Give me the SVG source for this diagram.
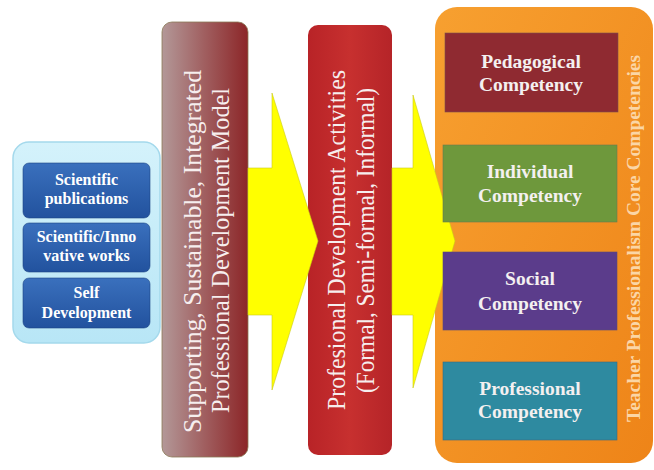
<svg xmlns="http://www.w3.org/2000/svg" width="654" height="470" viewBox="0 0 654 470" font-family="'Liberation Serif', 'DejaVu Serif', serif">
  <defs>
    <linearGradient id="gPanel" x1="0" y1="0" x2="0" y2="1">
      <stop offset="0" stop-color="#d4f2fb"/>
      <stop offset="1" stop-color="#b8e6f6"/>
    </linearGradient>
    <linearGradient id="gBlue" x1="0" y1="0" x2="0" y2="1">
      <stop offset="0" stop-color="#3a70bd"/>
      <stop offset="1" stop-color="#22529e"/>
    </linearGradient>
    <linearGradient id="gMaroon" x1="0" y1="0" x2="1" y2="0">
      <stop offset="0" stop-color="#b39898"/>
      <stop offset="0.5" stop-color="#a05e5f"/>
      <stop offset="1" stop-color="#8c2628"/>
    </linearGradient>
    <linearGradient id="gRed" x1="0" y1="0" x2="1" y2="0">
      <stop offset="0" stop-color="#b82327"/>
      <stop offset="0.5" stop-color="#c7302f"/>
      <stop offset="1" stop-color="#b52428"/>
    </linearGradient>
    <linearGradient id="gOrange" x1="0" y1="0" x2="1" y2="1">
      <stop offset="0" stop-color="#f7a030"/>
      <stop offset="1" stop-color="#ee8418"/>
    </linearGradient>
    <style>
      .small { font-size: 16px; font-weight: bold; fill: #ffffff; text-anchor: middle; }
      .big { font-size: 24.5px; fill: #f6eeee; text-anchor: middle; }
      .comp { font-size: 19.5px; font-weight: bold; fill: #f4f0f0; text-anchor: middle; }
      .side { font-size: 19px; font-weight: bold; fill: #fbd6a6; text-anchor: middle; }
      .inner { stroke: #1c4585; stroke-width: 0.6; }
      .arrow { fill: #ffff00; stroke: #c9c91a; stroke-width: 0.6; }
    </style>
  </defs>
  <rect width="654" height="470" fill="#ffffff"/>

  <g id="source-panel">
    <rect x="13" y="142" width="147" height="201" rx="16" fill="url(#gPanel)" stroke="#a4d9ec" stroke-width="1.5"/>
  </g>
  <g id="scientific-publications">
    <rect class="inner" x="23" y="163" width="127" height="55" rx="6" fill="url(#gBlue)"/>
    <text class="small" x="86.5" y="185">Scientific</text>
    <text class="small" x="86.5" y="204">publications</text>
  </g>
  <g id="scientific-innovative-works">
    <rect class="inner" x="23" y="223" width="127" height="49" rx="6" fill="url(#gBlue)"/>
    <text class="small" x="86.5" y="242">Scientific/Inno</text>
    <text class="small" x="86.5" y="261">vative works</text>
  </g>
  <g id="self-development">
    <rect class="inner" x="23" y="278" width="127" height="50" rx="6" fill="url(#gBlue)"/>
    <text class="small" x="86.5" y="298">Self</text>
    <text class="small" x="86.5" y="318">Development</text>
  </g>

  <g id="development-model">
    <rect x="162" y="22" width="86" height="435" rx="10" fill="url(#gMaroon)" stroke="#8a7a55" stroke-width="0.8"/>
    <text class="big" transform="translate(201,251.5) rotate(-90)" textLength="363" lengthAdjust="spacingAndGlyphs">Supporting, Sustainable, Integrated</text>
    <text class="big" transform="translate(229,250.5) rotate(-90)" textLength="325" lengthAdjust="spacingAndGlyphs">Professional Development Model</text>
  </g>

  <g id="development-activities">
    <rect x="308" y="25" width="84" height="430" rx="10" fill="url(#gRed)"/>
    <text class="big" transform="translate(345,240) rotate(-90)" textLength="340" lengthAdjust="spacingAndGlyphs">Profesional Development Activities</text>
    <text class="big" transform="translate(374,240.5) rotate(-90)" textLength="305" lengthAdjust="spacingAndGlyphs">(Formal, Semi-formal, Informal)</text>
  </g>

  <g id="core-competencies">
    <rect x="435" y="7" width="218" height="456" rx="22" fill="url(#gOrange)"/>
  </g>

  <g id="connectors">
    <polygon class="arrow" points="248,168 272,168 272,93 318,241 272,390 272,315 248,315"/>
    <polygon class="arrow" points="392,168 413,168 413,95 455,241 413,388 413,315 392,315"/>
  </g>

  <g id="pedagogical-competency">
    <rect x="445" y="33" width="173" height="79" fill="#8f2a31" stroke="#7a5050" stroke-width="0.6"/>
    <text class="comp" x="531" y="68">Pedagogical</text>
    <text class="comp" x="531" y="91">Competency</text>
  </g>
  <g id="individual-competency">
    <rect x="443" y="145" width="174" height="77" fill="#6e983c" stroke="#6a7a50" stroke-width="0.6"/>
    <text class="comp" x="530" y="178">Individual</text>
    <text class="comp" x="530" y="202">Competency</text>
  </g>
  <g id="social-competency">
    <rect x="443" y="252" width="174" height="78" fill="#5b3c8b" stroke="#5a4a7a" stroke-width="0.6"/>
    <text class="comp" x="530" y="285">Social</text>
    <text class="comp" x="530" y="310">Competency</text>
  </g>
  <g id="professional-competency">
    <rect x="443" y="362" width="174" height="78" fill="#2e8aa0" stroke="#3a6a80" stroke-width="0.6"/>
    <text class="comp" x="530" y="395">Professional</text>
    <text class="comp" x="530" y="418">Competency</text>
  </g>
  <g id="core-competencies-label">
    <text class="side" transform="translate(640,238.5) rotate(-90)" textLength="367" lengthAdjust="spacingAndGlyphs">Teacher Professionalism Core Competencies</text>
  </g>
</svg>
